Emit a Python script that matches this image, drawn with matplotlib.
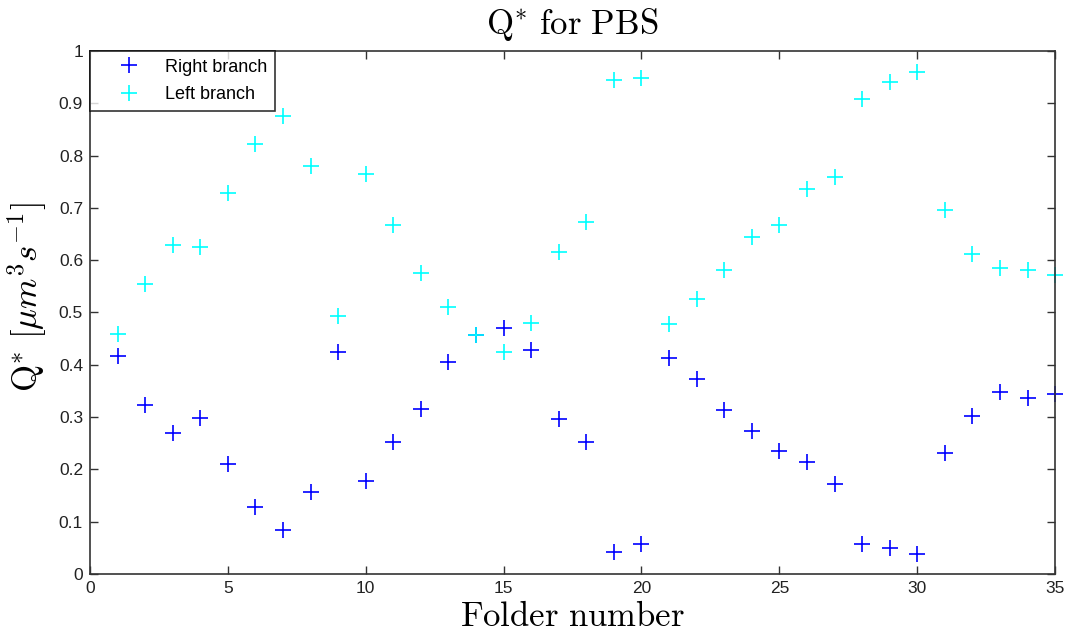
import matplotlib
matplotlib.use("Agg")
import matplotlib.pyplot as plt
import numpy as np

folders = list(range(1, 36))
right_branch = [0.417, 0.323, 0.270, 0.298, 0.210, 0.128, 0.084, 0.157, 0.424, 0.178,
                0.252, 0.315, 0.405, 0.457, 0.470, 0.428, 0.296, 0.252, 0.042, 0.057,
                0.413, 0.373, 0.314, 0.273, 0.235, 0.214, 0.172, 0.057, 0.050, 0.038,
                0.231, 0.302, 0.348, 0.337, 0.344]
left_branch = [0.459, 0.554, 0.629, 0.625, 0.728, 0.822, 0.876, 0.780, 0.493, 0.765,
               0.667, 0.575, 0.510, 0.457, 0.424, 0.480, 0.616, 0.673, 0.944, 0.948,
               0.478, 0.526, 0.581, 0.644, 0.667, 0.736, 0.759, 0.908, 0.941, 0.960,
               0.696, 0.612, 0.585, 0.581, 0.572]
xticks = [0, 5, 10, 15, 20, 25, 30, 35]
yticks = [0, 0.1, 0.2, 0.3, 0.4, 0.5, 0.6, 0.7, 0.8, 0.9, 1]
ytick_labels = ['0', '0.1', '0.2', '0.3', '0.4', '0.5', '0.6', '0.7', '0.8', '0.9', '1']

plt.rcParams['mathtext.fontset'] = 'cm'
plt.rcParams['font.family'] = ['Liberation Sans', 'DejaVu Sans']

fig = plt.figure(figsize=(10.69, 6.34), dpi=100)
ax = fig.add_axes([0.0842, 0.0946, 0.9028, 0.825])

ax.plot(folders, right_branch, linestyle='none', marker='+', markersize=11,
        markeredgewidth=1.2, color='#0000ff', label='Right branch', clip_on=False)
ax.plot(folders, left_branch, linestyle='none', marker='+', markersize=11,
        markeredgewidth=1.2, color='#00ffff', label='Left branch', clip_on=False)

ax.set_xlim(0, 35)
ax.set_ylim(0, 1)
ax.set_xticks(xticks)
ax.set_yticks(yticks)
ax.set_yticklabels(ytick_labels)
ax.tick_params(direction='in', top=True, right=True, length=6, width=1,
               labelsize=12.5, color='#333333', labelcolor='#222222', pad=5)
for s in ax.spines.values():
    s.set_linewidth(1.2)
    s.set_color('#333333')

ax.set_title(r'$\mathrm{Q^{*}\ for\ PBS}$', fontsize=25, pad=12)
ax.set_xlabel(r'$\mathrm{Folder\ number}$', fontsize=25, labelpad=3)
ax.set_ylabel(r'$\mathrm{Q}^{*}\ [\mu m^3 s^{-1}]$', fontsize=25)
ax.yaxis.set_label_coords(-0.042, 0.53)

leg = ax.legend(loc='upper left', fontsize=13, frameon=True, fancybox=False,
                borderaxespad=0, handlelength=3.5, handletextpad=0.25,
                borderpad=0.42, labelspacing=0.58)
leg.get_frame().set_edgecolor('black')
leg.get_frame().set_linewidth(1.2)

fig.savefig('out.png', dpi=100)
